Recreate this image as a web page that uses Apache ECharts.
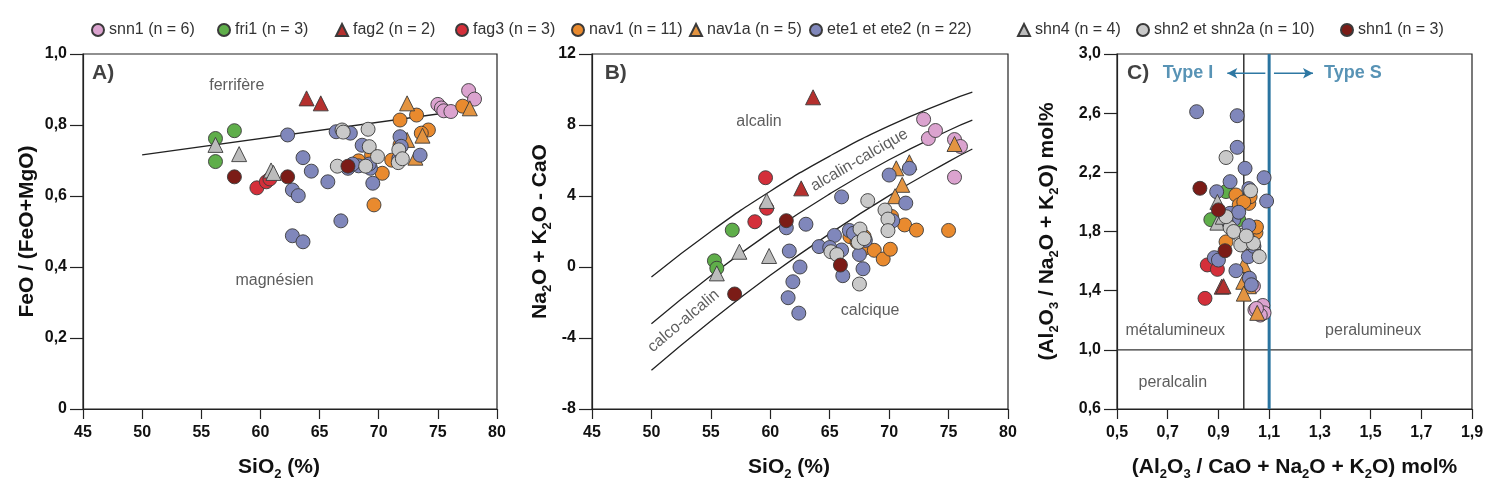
<!DOCTYPE html>
<html><head><meta charset="utf-8">
<script src="https://cdn.jsdelivr.net/npm/echarts@6/dist/echarts.min.js"></script>
<style>html,body{margin:0;padding:0;background:#fff}#c{width:1499px;height:504px}</style>
</head><body><div id="c"></div>
<script>
// ---------- DATA ----------
const groups = ['snn1 (n = 6)','fri1 (n = 3)','fag2 (n = 2)','fag3 (n = 3)','nav1 (n = 11)','nav1a (n = 5)','ete1 et ete2 (n = 22)','shn4 (n = 4)','shn2 et shn2a (n = 10)','shn1 (n = 3)'];

const snn1A = [[75.0,0.858],[75.3,0.848],[75.5,0.840],[76.1,0.838],[77.6,0.897],[78.1,0.873]];
const snn1B = [[72.9,8.32],[73.3,7.24],[73.9,7.69],[75.5,7.18],[76.0,6.79],[75.5,5.06]];
const snn1C = [[1.038,1.43],[1.075,1.30],[1.044,1.27],[1.08,1.25],[1.065,1.235],[1.05,1.28]];

const fri1A = [[56.2,0.762],[57.8,0.784],[56.2,0.697]];
const fri1B = [[55.3,0.35],[55.5,-0.07],[56.8,2.08]];
const fri1C = [[0.93,2.07],[0.87,1.88],[0.98,1.88]];

const fag2A = [[63.9,0.875],[65.1,0.861]];
const fag2B = [[63.6,9.56],[62.6,4.43]];
const fag2C = [[0.913,1.427],[0.92,1.43]];

const fag3A = [[59.7,0.623],[60.5,0.640],[60.8,0.648]];
const fag3B = [[59.6,5.03],[58.7,2.55],[59.7,3.31]];
const fag3C = [[0.856,1.574],[0.896,1.544],[0.847,1.348]];

const nav1A = [[71.8,0.814],[73.2,0.828],[77.1,0.853],[74.2,0.786],[73.6,0.777],[68.3,0.699],[69.4,0.716],[71.1,0.701],[71.8,0.744],[70.3,0.664],[69.6,0.575]];
const nav1B = [[71.3,2.37],[72.3,2.08],[75.0,2.06],[66.7,1.71],[67.9,1.71],[67.9,1.05],[68.75,0.94],[69.5,0.45],[70.1,1.0],[70.2,2.85],[67.3,1.4]];
const nav1C = [[0.969,2.047],[0.982,1.98],[1.02,1.99],[1.025,2.035],[0.974,1.923],[0.93,1.73],[1.022,1.80],[1.048,1.792],[1.05,1.83],[1.02,1.686],[1.0,2.0]];

const nav1aA = [[72.4,0.861],[72.4,0.758],[73.1,0.708],[77.7,0.847],[73.7,0.770]];
const nav1aB = [[75.5,6.93],[70.6,5.56],[71.7,5.9],[71.1,4.63],[70.5,3.99]];
const nav1aC = [[1.0,1.574],[0.998,1.46],[1.02,1.43],[1.0,1.38],[1.053,1.25]];

const eteA = [[62.3,0.772],[63.6,0.708],[64.3,0.670],[62.7,0.617],[63.2,0.601],[65.7,0.640],[66.4,0.781],[67.6,0.777],[68.6,0.743],[67.4,0.678],[68.3,0.685],[69.3,0.678],[69.5,0.636],[71.8,0.767],[73.5,0.715],[66.8,0.530],[62.7,0.488],[63.6,0.471],[67.8,0.690],[69.2,0.690],[71.9,0.740],[71.7,0.705]];
const eteB = [[70.0,5.18],[71.7,5.56],[71.4,3.6],[66.0,3.95],[63.0,2.41],[61.35,2.21],[61.6,0.9],[64.1,1.15],[65.4,1.78],[66.0,0.96],[66.65,2.06],[67.5,0.7],[67.8,-0.1],[62.5,0.0],[61.9,-0.83],[61.5,-1.73],[62.4,-2.6],[66.1,-0.49],[65.0,1.1],[67.0,1.9],[68.0,1.5],[70.3,2.6]];
const eteC = [[0.814,2.61],[0.974,2.583],[0.974,2.369],[1.005,2.227],[0.946,2.137],[1.08,2.164],[1.09,2.006],[0.893,2.069],[1.02,2.09],[0.946,1.923],[0.884,1.623],[0.9,1.607],[0.969,1.535],[1.018,1.63],[1.022,1.484],[1.02,1.84],[0.96,1.88],[1.0,1.75],[0.93,1.87],[1.04,1.7],[0.98,1.93],[1.03,1.44]];

const shn4A = [[56.2,0.744],[58.2,0.718],[60.9,0.672],[61.1,0.665]];
const shn4B = [[59.7,3.72],[57.4,0.86],[59.9,0.62],[55.5,-0.36]];
const shn4C = [[0.896,2.0],[0.896,1.86],[0.917,1.9],[1.038,1.73]];

const shn2A = [[66.9,0.786],[69.1,0.788],[69.2,0.739],[69.9,0.711],[68.9,0.684],[66.5,0.684],[71.7,0.730],[71.65,0.694],[72.0,0.705],[67.0,0.78]];
const shn2B = [[68.2,3.74],[69.65,3.21],[69.9,2.7],[69.9,2.05],[67.55,2.14],[67.4,1.39],[65.1,0.86],[65.6,0.7],[67.5,-0.96],[67.9,1.6]];
const shn2C = [[0.93,2.30],[1.027,2.076],[0.946,1.826],[0.982,1.776],[0.988,1.709],[1.061,1.63],[1.038,1.72],[0.93,1.90],[0.96,1.8],[1.01,1.77]];

const shn1A = [[57.8,0.654],[62.3,0.654],[67.4,0.684]];
const shn1B = [[61.35,2.61],[57.0,-1.52],[65.9,0.11]];
const shn1C = [[0.827,2.092],[0.9,1.946],[0.926,1.67]];

// boundary lines
const lineA = [[50,0.716],[77.6,0.843]];
const curveTopB = [[50,-0.56],[55,2.0],[60,4.27],[65,6.25],[70,7.95],[75,9.36],[77,9.85]];
const curveMidB = [[50,-3.2],[55,-0.49],[60,1.95],[65,4.12],[70,6.04],[75,7.69],[77,8.27]];
const curveLowB = [[50,-5.82],[55,-3.04],[60,-0.47],[65,1.88],[70,4.02],[75,5.94],[77,6.65]];
const lineC_x1 = [[1.0,0.6],[1.0,3.0]];
const lineC_x11 = [[1.1,0.6],[1.1,3.0]];
const lineC_y1 = [[0.5,1.0],[1.9,1.0]];
const arrowLeftC = [[1.085,2.87],[0.935,2.87]];
const arrowRightC = [[1.119,2.87],[1.273,2.87]];

// annotation texts
const textsA = [['A)',46.7,0.946],['ferrifère',58.0,0.91],['magnésien',61.2,0.363]];
const textsB = [['B)',47.0,10.93],['alcalin',59.05,8.17],['alcalin-calcique',67.5,6.03],['calco-alcalin',52.7,-3.04],['calcique',68.4,-2.46]];
const textsC = [['C)',0.583,2.87],['Type I',0.78,2.87],['Type S',1.43,2.87],['métalumineux',0.73,1.133],['peralumineux',1.51,1.133],['peralcalin',0.72,0.776]];

// ---------- STYLE ----------
const SANS = "'Liberation Sans',Arial,Helvetica,sans-serif";
const colors = ['#dba3cf','#5fae4a','#b5302e','#d42f3a','#e98a2e','#e39441','#8087bb','#bcbcbc','#c9c9c9','#7b1c17'];
const shapes = ['circle','circle','triangle','circle','circle','triangle','circle','triangle','circle','circle'];
const dataSets = [
  [snn1A,snn1B,snn1C],[fri1A,fri1B,fri1C],[fag2A,fag2B,fag2C],[fag3A,fag3B,fag3C],
  [nav1A,nav1B,nav1C],[nav1aA,nav1aB,nav1aC],[eteA,eteB,eteC],[shn4A,shn4B,shn4C],
  [shn2A,shn2B,shn2C],[shn1A,shn1B,shn1C]
];
const legendIconCenter = [97,223,341,461,577,695,815,1023,1142,1346];

const AX = '#222';
const grids = [
  {left:83, top:54, width:414, height:355},
  {left:592, top:54, width:416, height:355},
  {left:1117, top:54, width:355, height:355}
].map(g => Object.assign(g, {show:true, borderColor:AX, borderWidth:1.2, backgroundColor:'transparent', outerBoundsMode:'none', containLabel:false}));

const rich = {
  b:{fontFamily:SANS, fontSize:21, fontWeight:'bold', color:'#111', lineHeight:28},
  s:{fontFamily:SANS, fontSize:13, fontWeight:'bold', color:'#111', verticalAlign:'bottom', lineHeight:12}
};
const commaFmt = v => (Math.abs(v) < 1e-9 ? '0' : v.toFixed(1).replace('.', ','));
const tickLbl = (extra) => Object.assign({fontFamily:SANS, fontSize:16, fontWeight:'bold', color:'#111', margin:16}, extra||{});
function axisBase(extra){
  return Object.assign({
    type:'value', nameLocation:'middle',
    axisLine:{show:true, onZero:false, lineStyle:{color:AX, width:1.2}},
    splitLine:{show:false},
    axisLabel:tickLbl(),
    nameTextStyle:{rich:rich}
  }, extra);
}
const xTick = {show:true, inside:false, length:10, lineStyle:{color:AX, width:1.2}};
const yTick = {show:true, inside:false, length:13, lineStyle:{color:AX, width:1.2}};
const xAxes = [
  axisBase({gridIndex:0, min:45, max:80, interval:5, name:'{b|SiO}{s|2}{b| (%)}', nameGap:44, axisTick:xTick, nameTextStyle:{rich:rich, padding:[0,22,0,0]}}),
  axisBase({gridIndex:1, min:45, max:80, interval:5, name:'{b|SiO}{s|2}{b| (%)}', nameGap:44, axisTick:xTick, nameTextStyle:{rich:rich, padding:[0,22,0,0]}}),
  axisBase({gridIndex:2, min:0.5, max:1.9, interval:0.2, name:'{b|(Al}{s|2}{b|O}{s|3}{b| / CaO + Na}{s|2}{b|O + K}{s|2}{b|O) mol%}', nameGap:44, axisTick:xTick, axisLabel:tickLbl({formatter:commaFmt})})
];
const yAxes = [
  axisBase({gridIndex:0, min:0, max:1.0, interval:0.2, name:'{b|FeO / (FeO+MgO)}', nameGap:42, axisTick:yTick, axisLabel:tickLbl({formatter:commaFmt})}),
  axisBase({gridIndex:1, min:-8, max:12, interval:4, name:'{b|Na}{s|2}{b|O + K}{s|2}{b|O - CaO}', nameGap:32, axisTick:yTick}),
  axisBase({gridIndex:2, min:0.6, max:3.0, interval:0.4, name:'{b|(Al}{s|2}{b|O}{s|3}{b| / Na}{s|2}{b|O + K}{s|2}{b|O) mol%}', nameGap:56, axisTick:yTick, axisLabel:tickLbl({formatter:commaFmt})})
];

const series = [];
function refLine(idx, data, opts){
  series.push(Object.assign({type:'line', xAxisIndex:idx, yAxisIndex:idx, data:data, symbol:'none', silent:true,
    lineStyle:{color:AX, width:1.3}, z:1}, opts||{}));
}
refLine(0, lineA);
refLine(1, curveTopB, {smooth:true});
refLine(1, curveMidB, {smooth:true});
refLine(1, curveLowB, {smooth:true});
refLine(2, lineC_x1, {lineStyle:{color:'#333', width:1.5}});
refLine(2, lineC_y1, {lineStyle:{color:'#333', width:1.3}});
refLine(2, lineC_x11, {lineStyle:{color:'#2a74a0', width:3}});
const BLUE = '#2e78a3';
refLine(2, [{value:arrowLeftC[0], symbol:'none'},{value:arrowLeftC[1], symbol:'arrow', symbolSize:[8,10], symbolRotate:90}], {symbol:'none', lineStyle:{color:BLUE, width:1.5}, itemStyle:{color:BLUE}, showSymbol:true, showAllSymbol:true});
refLine(2, [{value:arrowRightC[0], symbol:'none'},{value:arrowRightC[1], symbol:'arrow', symbolSize:[8,10], symbolRotate:-90}], {symbol:'none', lineStyle:{color:BLUE, width:1.5}, itemStyle:{color:BLUE}, showSymbol:true, showAllSymbol:true});

groups.forEach((name, gi) => {
  for (let p = 0; p < 3; p++) {
    series.push({
      type:'scatter', name:name, xAxisIndex:p, yAxisIndex:p, data:dataSets[gi][p],
      symbol:shapes[gi], symbolSize: shapes[gi]==='triangle' ? 15 : 14,
      itemStyle:{color:colors[gi], borderColor:'#3a3a3a', borderWidth:0.9, opacity:1},
      z:3
    });
  }
});

function textStyleFor(t){
  if (/^[ABC]\)$/.test(t)) return {fontFamily:SANS, fontSize:21, fontWeight:'bold', color:'#111'};
  if (/^Type/.test(t)) return {fontFamily:SANS, fontSize:18, fontWeight:'bold', color:BLUE};
  return {fontFamily:SANS, fontSize:16, color:'#333'};
}
const rotations = {'alcalin-calcique':30, 'calco-alcalin':40};
[textsA, textsB, textsC].forEach((arr, p) => {
  series.push({
    type:'scatter', xAxisIndex:p, yAxisIndex:p, symbol:'circle', symbolSize:1, silent:true, z:5,
    itemStyle:{color:'rgba(0,0,0,0)'},
    data: arr.map(t => ({name:t[0], value:[t[1], t[2]],
      label:Object.assign({show:true, position:'inside', formatter:'{b}', rotate:rotations[t[0]]||0}, textStyleFor(t[0]))}))
  });
});

const legends = groups.map((name, gi) => ({
  left:legendIconCenter[gi]-6, top:22, padding:0, data:[name], itemWidth:12, itemHeight:12, itemGap:5, selectedMode:false,
  textStyle:{fontFamily:SANS, fontSize:16, color:'#333'}
}));

const chart = echarts.init(document.getElementById('c'), null, {renderer:'canvas'});
chart.setOption({
  animation:false,
  backgroundColor:'#fff',
  grid:grids, xAxis:xAxes, yAxis:yAxes, legend:legends, series:series,
  tooltip:{show:false}
});
</script></body></html>
